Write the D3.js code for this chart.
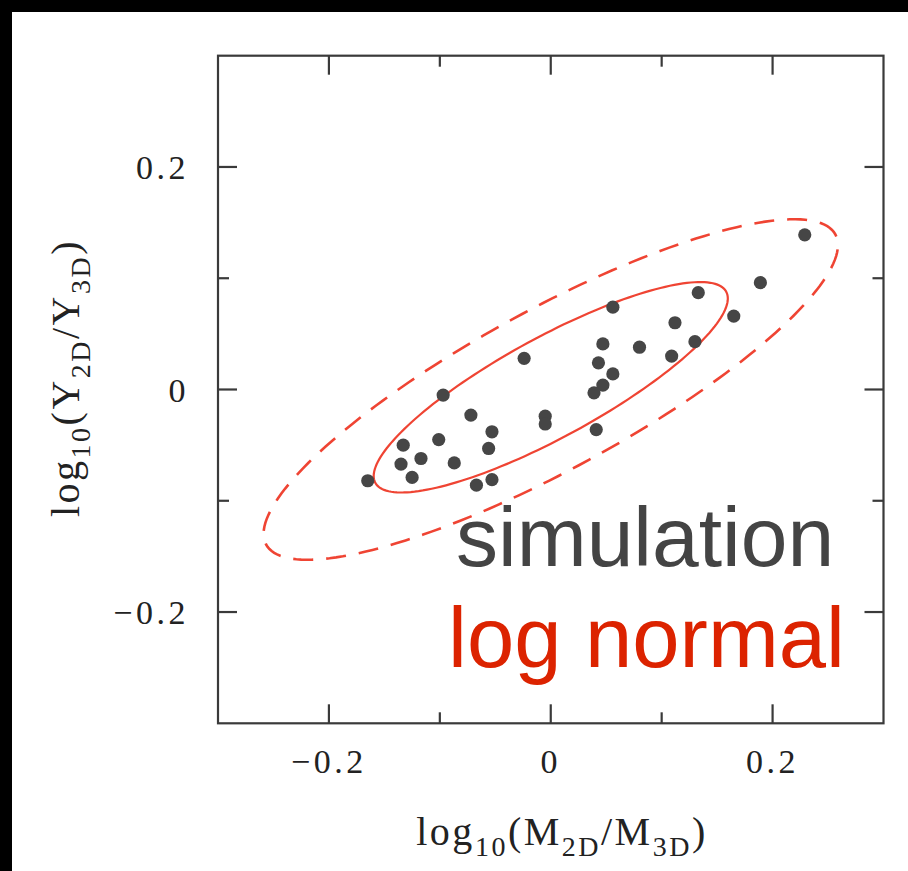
<!DOCTYPE html>
<html>
<head>
<meta charset="utf-8">
<script src="https://cdn.jsdelivr.net/npm/d3@7"></script>
<style>
  html, body { margin: 0; padding: 0; background: #fff; overflow: hidden; }
  svg { display: block; }
</style>
</head>
<body>
<svg id="chart" width="908" height="871"></svg>
<script>
// Projected vs. true quantities for simulated haloes
const simX = [0.056, 0.112, 0.165, 0.047, 0.080, 0.130, 0.109, -0.024, 0.043, 0.056,
              0.047, 0.039, -0.097, -0.072, -0.005, -0.005, -0.053, 0.041, -0.101, -0.133,
              -0.056, -0.117, -0.135, -0.087, -0.125, -0.165, -0.053, -0.067, 0.229, 0.189, 0.133];
const simY = [0.074, 0.060, 0.066, 0.041, 0.038, 0.043, 0.030, 0.028, 0.024, 0.014,
              0.004, -0.003, -0.005, -0.023, -0.024, -0.031, -0.038, -0.036, -0.045, -0.050,
              -0.053, -0.062, -0.067, -0.066, -0.079, -0.082, -0.081, -0.086, 0.139, 0.096, 0.087];

// Log-normal model contours (68% solid, 95% dashed): centre, semi-axes, tilt in degrees
const contourNames = ["68%", "95%"];
const contourCx = [0.0, 0.0];
const contourCy = [0.002, 0.0];
const contourA = [0.180, 0.292];
const contourB = [0.045, 0.072];
const contourAngle = [28.5, 28.5];

const majorTicks = [-0.2, 0, 0.2];
const minorTicks = [-0.1, 0.1];
const tickLabels = ["\u22120.2", "0", "0.2"];

const svg = d3.select("#chart");
const W = 908, H = 871;

svg.append("rect").attr("width", W).attr("height", H).attr("fill", "#fff");
svg.append("rect").attr("x", 0).attr("y", 0).attr("width", W).attr("height", 12).attr("fill", "#000");
svg.append("rect").attr("x", 0).attr("y", 0).attr("width", 12).attr("height", H).attr("fill", "#000");

const x = d3.scaleLinear().domain([-0.3, 0.3]).range([218, 883.5]);
const y = d3.scaleLinear().domain([-0.3, 0.3]).range([723.3, 55.7]);

const frameColor = "#3a3a3a";
const serif = "'Liberation Serif', 'Times New Roman', serif";

// contour ellipses
const line = d3.line().x(d => x(d[0])).y(d => y(d[1])).curve(d3.curveLinearClosed);
function ellipsePts(i) {
  const th = contourAngle[i] * Math.PI / 180;
  return d3.range(0, 360, 2).map(t => {
    const r = t * Math.PI / 180;
    const u = contourA[i] * Math.cos(r), v = contourB[i] * Math.sin(r);
    return [contourCx[i] + u * Math.cos(th) - v * Math.sin(th),
            contourCy[i] + u * Math.sin(th) + v * Math.cos(th)];
  });
}
const red = "#ef4433";
svg.append("g").selectAll("path").data(contourNames).join("path")
  .attr("d", (d, i) => line(ellipsePts(i)))
  .attr("fill", "none")
  .attr("stroke", red)
  .attr("stroke-width", (d, i) => i === 0 ? 2.2 : 2.6)
  .attr("stroke-dasharray", (d, i) => i === 0 ? null : "20 13");

// simulation points
svg.append("g").selectAll("circle").data(simX).join("circle")
  .attr("cx", d => x(d))
  .attr("cy", (d, i) => y(simY[i]))
  .attr("r", 6.6)
  .attr("fill", "#464646");

// frame
svg.append("rect")
  .attr("x", x(-0.3)).attr("y", y(0.3))
  .attr("width", x(0.3) - x(-0.3)).attr("height", y(-0.3) - y(0.3))
  .attr("fill", "none").attr("stroke", frameColor).attr("stroke-width", 2.2);

// inward ticks on all four sides
const tg = svg.append("g").attr("stroke", frameColor).attr("stroke-width", 2.2);
const ticks = majorTicks.map(v => ({v, len: 19})).concat(minorTicks.map(v => ({v, len: 11})));
ticks.forEach(t => {
  tg.append("line").attr("x1", x(t.v)).attr("x2", x(t.v)).attr("y1", y(-0.3)).attr("y2", y(-0.3) - t.len);
  tg.append("line").attr("x1", x(t.v)).attr("x2", x(t.v)).attr("y1", y(0.3)).attr("y2", y(0.3) + t.len);
  tg.append("line").attr("y1", y(t.v)).attr("y2", y(t.v)).attr("x1", x(-0.3)).attr("x2", x(-0.3) + t.len);
  tg.append("line").attr("y1", y(t.v)).attr("y2", y(t.v)).attr("x1", x(0.3)).attr("x2", x(0.3) - t.len);
});

// tick labels
svg.append("g").selectAll("text").data(majorTicks).join("text")
  .attr("x", d => x(d)).attr("y", 773)
  .attr("text-anchor", "middle")
  .attr("font-family", serif).attr("font-size", 34).attr("letter-spacing", 3.5)
  .attr("fill", "#222")
  .text((d, i) => tickLabels[i]);
svg.append("g").selectAll("text").data(majorTicks).join("text")
  .attr("x", 189).attr("y", d => y(d) + 12)
  .attr("text-anchor", "end")
  .attr("font-family", serif).attr("font-size", 34).attr("letter-spacing", 3.5)
  .attr("fill", "#222")
  .text((d, i) => tickLabels[i]);

// axis titles with subscripts
function title(g, base, s1, s2) {
  const t = g.append("text").attr("font-family", serif).attr("font-size", 40).attr("fill", "#222")
    .attr("letter-spacing", 2.5).attr("text-anchor", "middle");
  t.append("tspan").text("log");
  t.append("tspan").attr("font-size", 28).attr("dy", 11).text("10");
  t.append("tspan").attr("dy", -11).text("(" + base);
  t.append("tspan").attr("font-size", 28).attr("dy", 11).text(s1);
  t.append("tspan").attr("dy", -11).text("/" + base);
  t.append("tspan").attr("font-size", 28).attr("dy", 11).text(s2);
  t.append("tspan").attr("dy", -11).text(")");
  return t;
}
title(svg.append("g").attr("transform", "translate(562,845)"), "M", "2D", "3D");
title(svg.append("g").attr("transform", "translate(79,378) rotate(-90)"), "Y", "2D", "3D");

// legend text
svg.append("text").attr("x", 456).attr("y", 566)
  .attr("font-family", "'Liberation Sans', Arial, sans-serif").attr("font-size", 84)
  .attr("fill", "#444").text("simulation");
svg.append("text").attr("x", 448).attr("y", 667)
  .attr("font-family", "'Liberation Sans', Arial, sans-serif").attr("font-size", 85)
  .attr("fill", "#dc2300").text("log normal");
</script>
</body>
</html>
